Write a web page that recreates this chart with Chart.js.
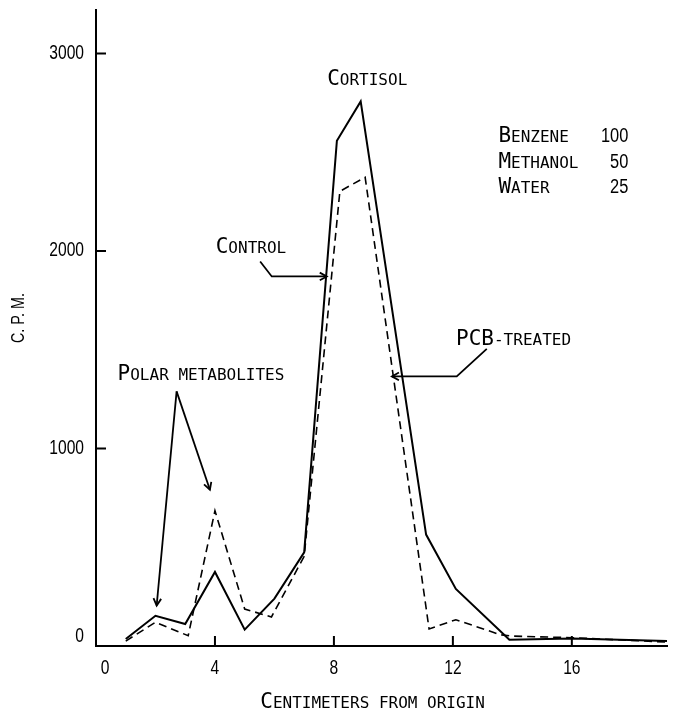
<!DOCTYPE html>
<html>
<head>
<meta charset="utf-8">
<script src="https://cdn.jsdelivr.net/npm/chart.js@4.4.1/dist/chart.umd.min.js"></script>
<style>
	html, body { margin: 0; padding: 0; background: #fff; }
	canvas { display: block; }
</style>
</head>
<body>
<canvas id="myChart" width="675" height="709"></canvas>
<script>
	// values: cm from origin vs counts per minute
	const controlCm = [1, 2, 3, 4, 5, 6, 7, 8.1, 8.9, 11.1, 12.1, 13.9, 16, 19.2];
	const controlCpm = [35, 153, 111, 375, 83, 240, 474, 2558, 2757, 564, 289, 32, 38, 25];
	const treatedCm = [1, 2, 3.1, 4, 5, 5.9, 7, 8.2, 9.05, 11.2, 12.1, 13.6, 14, 16, 19.2];
	const treatedCpm = [25, 120, 52, 685, 187, 147, 454, 2302, 2373, 86, 133, 57, 50, 42, 20];
	const xTicks = [0, 4, 8, 12, 16];
	const yTicks = [0, 1000, 2000, 3000];
	const solventNames = ['Benzene', 'Methanol', 'Water'];
	const solventParts = [100, 50, 25];

	const MONO = '"DejaVu Sans Mono", monospace';
	const SANS = '"Liberation Sans", Arial, sans-serif';

	//draws lettering like the figure: capitals big, lower case as small capitals
	function SmallCaps(ctx, text, x, y, align) {
		const big = 'normal 21px ' + MONO;
		const small = 'normal 16px ' + MONO;
		const parts = [];
		let total = 0;
		for (const ch of text) {
			const isBig = ch !== ch.toLowerCase();
			ctx.font = isBig ? big : small;
			const w = ctx.measureText(ch.toUpperCase()).width;
			parts.push({ ch: ch.toUpperCase(), font: ctx.font, w: w });
			total += w;
		}
		let cx = x;
		if (align === 'center') cx = x - total / 2;
		if (align === 'right') cx = x - total;
		ctx.textAlign = 'left';
		ctx.textBaseline = 'alphabetic';
		for (const p of parts) {
			ctx.font = p.font;
			ctx.fillText(p.ch, cx, y);
			cx += p.w;
		}
	}

	//narrow digits, squeezed sideways
	function Narrow(ctx, text, x, y, align, baseline, size, squeeze, rot) {
		ctx.save();
		ctx.translate(x, y);
		if (rot) ctx.rotate(rot);
		ctx.scale(squeeze, 1);
		ctx.font = size + 'px ' + SANS;
		ctx.textAlign = align;
		ctx.textBaseline = baseline;
		ctx.fillText(text, 0, 0);
		ctx.restore();
	}

	function Arrow(ctx, pts) {
		ctx.beginPath();
		ctx.moveTo(pts[0][0], pts[0][1]);
		for (let i = 1; i < pts.length; i++) ctx.lineTo(pts[i][0], pts[i][1]);
		ctx.stroke();
		const a = pts[pts.length - 2], b = pts[pts.length - 1];
		const ang = Math.atan2(b[1] - a[1], b[0] - a[0]);
		ctx.beginPath();
		ctx.moveTo(b[0] - 8 * Math.cos(ang - 0.5), b[1] - 8 * Math.sin(ang - 0.5));
		ctx.lineTo(b[0], b[1]);
		ctx.lineTo(b[0] - 8 * Math.cos(ang + 0.5), b[1] - 8 * Math.sin(ang + 0.5));
		ctx.stroke();
	}

	const whiteBack = {
		id: 'whiteBack',
		beforeDraw(chart) {
			const ctx = chart.ctx;
			ctx.save();
			ctx.fillStyle = '#fff';
			ctx.fillRect(0, 0, chart.width, chart.height);
			ctx.restore();
		}
	};

	const notes = {
		id: 'notes',
		afterDraw(chart) {
			const ctx = chart.ctx;
			const area = chart.chartArea;
			const xs = chart.scales.x, ys = chart.scales.y;
			const px = v => xs.getPixelForValue(v);
			const py = v => ys.getPixelForValue(v);
			const P = (a, b) => [px(a), py(b)];
			ctx.save();
			ctx.strokeStyle = '#000';
			ctx.fillStyle = '#000';

			//inward tick marks
			ctx.lineWidth = 2;
			ctx.beginPath();
			yTicks.slice(1).forEach(v => {
				ctx.moveTo(area.left, py(v));
				ctx.lineTo(area.left + 10, py(v));
			});
			xTicks.slice(1).forEach(v => {
				ctx.moveTo(px(v), area.bottom);
				ctx.lineTo(px(v), area.bottom - 10);
			});
			ctx.stroke();

			//tick labels
			yTicks.forEach(v => {
				Narrow(ctx, String(v), area.left - 12, Math.min(py(v), area.bottom - 10), 'right', 'middle', 20, 0.78);
			});
			xTicks.forEach(v => {
				Narrow(ctx, String(v), px(v) + (v === 0 ? 9 : 0), area.bottom + 22, 'center', 'middle', 20, 0.78);
			});
			Narrow(ctx, 'C. P. M.', 19, 318, 'center', 'middle', 18, 0.8, -Math.PI / 2);

			//labels
			SmallCaps(ctx, 'Cortisol', px(9.12), py(2842), 'center');
			SmallCaps(ctx, 'Control', px(5.21), py(1990), 'center');
			SmallCaps(ctx, 'PCB-treated', px(14.04), py(1526), 'center');
			SmallCaps(ctx, 'Polar metabolites', px(3.53), py(1348), 'center');
			SmallCaps(ctx, 'Centimeters from origin', px(9.3), 708, 'center');

			const rows = [2550, 2420, 2294];
			solventNames.forEach((n, i) => {
				SmallCaps(ctx, n, px(13.53), py(rows[i]), 'left');
				Narrow(ctx, String(solventParts[i]), px(17.9), py(rows[i]), 'right', 'alphabetic', 20, 0.82);
			});

			//arrows
			ctx.lineWidth = 1.8;
			Arrow(ctx, [P(5.52, 1947), P(5.91, 1871), P(7.76, 1871)]);
			Arrow(ctx, [P(13.14, 1504), P(12.13, 1365), P(9.95, 1365)]);
			Arrow(ctx, [P(2.71, 1289), P(2.04, 205)]);
			Arrow(ctx, [P(2.71, 1289), P(3.83, 791)]);
			ctx.restore();
		}
	};

	const config = {
		type: 'line',
		data: {
			datasets: [{
				label: 'Control',
				data: controlCm.map((x, i) => ({ x: x, y: controlCpm[i] })),
				borderColor: '#000',
				borderWidth: 2,
				pointRadius: 0,
				tension: 0,
				fill: false
			}, {
				label: 'PCB-treated',
				data: treatedCm.map((x, i) => ({ x: x, y: treatedCpm[i] })),
				borderColor: '#000',
				borderWidth: 1.6,
				borderDash: [8, 5],
				pointRadius: 0,
				tension: 0,
				fill: false
			}]
		},
		options: {
			responsive: false,
			animation: false,
			events: [],
			layout: { padding: { top: 10, right: 8, left: 0, bottom: 0 } },
			plugins: {
				legend: { display: false },
				tooltip: { enabled: false }
			},
			scales: {
				x: {
					type: 'linear',
					min: 0,
					max: 19.2,
					afterBuildTicks: s => { s.ticks = xTicks.map(v => ({ value: v })); },
					afterFit: s => { s.height = 63; },
					grid: { display: false, drawTicks: false, tickLength: 0 },
					border: { display: true, color: '#000', width: 2 },
					ticks: { display: false }
				},
				y: {
					min: 0,
					max: 3220,
					afterBuildTicks: s => { s.ticks = yTicks.map(v => ({ value: v })); },
					afterFit: s => { s.width = 96; },
					grid: { display: false, drawTicks: false, tickLength: 0 },
					border: { display: true, color: '#000', width: 2 },
					ticks: { display: false }
				}
			}
		},
		plugins: [whiteBack, notes]
	};

	const myChart = new Chart(document.getElementById('myChart'), config);
</script>
</body>
</html>
